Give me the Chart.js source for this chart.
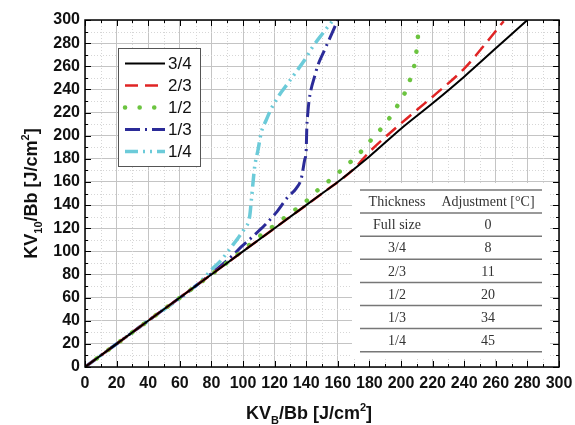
<!DOCTYPE html>
<html>
<head>
<meta charset="UTF-8">
<script src="https://cdn.jsdelivr.net/npm/chart.js"></script>
<style>
  body { margin: 0; background: #fff; }
</style>
</head>
<body>
<canvas id="c" width="575" height="425"></canvas>
<script>
// series: x = KV_B/Bb, y = KV10/Bb
const x34 = [0, 40, 80, 120, 150, 160, 180, 200, 220, 240, 260, 280];
const y34 = [0, 40, 80, 120, 150, 160, 182, 206, 228, 251, 275.5, 300];

const x23 = [0, 40, 80, 120, 150, 170, 180, 200, 220, 240, 255, 265];
const y23 = [0, 40, 80, 120, 150, 171, 186, 210.6, 233.7, 258, 282, 299];

const x12 = [0, 40, 80, 100, 108.4, 115.8, 123, 131, 139, 145, 152.6, 160, 167, 173.7, 180.5, 186.8, 192.6, 198, 202.8, 206, 208.7, 210, 211];
const y12 = [0, 40, 80, 101, 110.7, 118.4, 125.6, 134, 142, 150.2, 158.8, 167.5, 176, 184.7, 195.4, 205, 215, 226.5, 238, 249.6, 262.6, 275.5, 290];

const x13 = [0, 40, 70, 78, 85.3, 92.6, 99, 106.3, 113.7, 121, 128.4, 133.7, 136.9, 139, 140, 140.4, 141, 141.7, 143, 145.3, 147.4, 151.6, 155.8, 160];
const y13 = [0, 40, 70, 78.5, 86.7, 95.4, 104, 113, 122.5, 133.5, 147, 154.5, 163, 179, 187.6, 207.7, 219, 229, 239.5, 251, 261, 274, 287, 300];

const x14 = [0, 40, 70, 75, 80, 86.3, 91.6, 96.8, 101, 104.2, 105.3, 106.3, 107.4, 109.5, 111.6, 114.7, 118, 123, 128.4, 133.7, 139, 144.2, 150.5, 156.5];
const y14 = [0, 40, 70, 76.5, 84, 92.5, 102, 111.3, 120, 130, 144.4, 158.8, 173.2, 187.6, 203, 213.5, 223.7, 235.2, 245.3, 255.3, 265.4, 277, 288.5, 299];

const seriesNames = ['3/4', '2/3', '1/2', '1/3', '1/4'];

// inset table
const tableHead = ['Thickness', 'Adjustment [\u00B0C]'];
const tableThickness = ['Full size', '3/4', '2/3', '1/2', '1/3', '1/4'];
const tableAdjust = ['0', '8', '11', '20', '34', '45'];

const pts = (xs, ys) => xs.map((x, i) => ({ x: x, y: ys[i] }));

const styles = [
  { color: '#000000', dash: [], width: 2 },
  { color: '#e02424', dash: [13, 7], width: 2.5 },
  { color: '#6cc440', dash: [0.1, 14.5], width: 4.5 },
  { color: '#2b2b98', dash: [15, 5, 2, 5], width: 3 },
  { color: '#6ccbd9', dash: [13, 5, 2, 5, 2, 5], width: 3.5 }
];
const allX = [x34, x23, x12, x13, x14];
const allY = [y34, y23, y12, y13, y14];

const datasets = seriesNames.map((name, i) => ({
  label: name,
  data: pts(allX[i], allY[i]),
  borderColor: styles[i].color,
  borderDash: styles[i].dash,
  borderWidth: styles[i].width,
  borderCapStyle: i === 2 ? 'round' : 'butt',
  pointRadius: 0,
  fill: false,
  cubicInterpolationMode: 'monotone'
}));

const sans = '"Liberation Sans", Arial, sans-serif';
const serif = '"Liberation Serif", "Times New Roman", serif';

// minor dotted grid under the data
const minorGrid = {
  id: 'minorGrid',
  beforeDatasetsDraw(chart) {
    const { ctx, chartArea: a, scales: { x, y } } = chart;
    ctx.save();
    ctx.strokeStyle = '#d6d6d6';
    ctx.lineWidth = 1;
    ctx.setLineDash([1, 2]);
    for (let v = 10; v < 300; v += 20) {
      const px = Math.round(x.getPixelForValue(v)) + 0.5;
      ctx.beginPath(); ctx.moveTo(px, a.top); ctx.lineTo(px, a.bottom); ctx.stroke();
      const py = Math.round(y.getPixelForValue(v)) + 0.5;
      ctx.beginPath(); ctx.moveTo(a.left, py); ctx.lineTo(a.right, py); ctx.stroke();
    }
    ctx.restore();
  }
};

// legend box, inset table, frame, inward ticks, axis titles
const overlay = {
  id: 'overlay',
  afterDatasetsDraw(chart) {
    const { ctx, chartArea: a, scales: { x, y } } = chart;
    ctx.save();

    // legend
    const lx = a.left + 33, ly = a.top + 28;
    ctx.fillStyle = '#fff';
    ctx.fillRect(lx, ly, 82, 118);
    ctx.strokeStyle = '#555';
    ctx.lineWidth = 1;
    ctx.setLineDash([]);
    ctx.strokeRect(lx + 0.5, ly + 0.5, 82, 118);
    ctx.font = '17px ' + sans;
    ctx.textBaseline = 'middle';
    ctx.textAlign = 'left';
    chart.data.datasets.forEach((ds, i) => {
      const ry = ly + 15.5 + i * 22;
      ctx.strokeStyle = ds.borderColor;
      ctx.lineWidth = ds.borderWidth;
      ctx.lineCap = ds.borderCapStyle;
      ctx.setLineDash(ds.borderDash);
      ctx.beginPath(); ctx.moveTo(lx + 7, ry); ctx.lineTo(lx + 47, ry); ctx.stroke();
      ctx.fillStyle = '#111';
      ctx.fillText(ds.label, lx + 50, ry + 1);
    });
    ctx.lineCap = 'butt';
    ctx.setLineDash([]);

    // table
    const tl = 360, tr = 542, tt = 190, rh = 23.1;
    ctx.fillStyle = '#fff';
    ctx.fillRect(352, 183, 198, 176);
    ctx.strokeStyle = '#777';
    ctx.lineWidth = 1.5;
    for (let r = 0; r <= tableThickness.length + 1; r++) {
      const py = tt + r * rh;
      ctx.beginPath(); ctx.moveTo(tl, py); ctx.lineTo(tr, py); ctx.stroke();
    }
    ctx.fillStyle = '#333';
    ctx.font = '14px ' + serif;
    ctx.textAlign = 'center';
    ctx.textBaseline = 'middle';
    const c1 = 397, c2 = 488;
    ctx.fillText(tableHead[0], c1, tt + rh / 2 + 1);
    ctx.fillText(tableHead[1], c2, tt + rh / 2 + 1);
    tableThickness.forEach((t, i) => {
      const py = tt + (i + 1.5) * rh + 1;
      ctx.fillText(t, c1, py);
      ctx.fillText(tableAdjust[i], c2, py);
    });

    // frame
    ctx.strokeStyle = '#000';
    ctx.lineWidth = 1.5;
    ctx.strokeRect(a.left, a.top, a.right - a.left, a.bottom - a.top);

    // inward ticks on all sides
    ctx.lineWidth = 1;
    for (let v = 0; v <= 300; v += 10) {
      const len = v % 20 === 0 ? 6 : 3;
      const px = Math.round(x.getPixelForValue(v)) + 0.5;
      ctx.beginPath();
      ctx.moveTo(px, a.bottom); ctx.lineTo(px, a.bottom - len);
      ctx.moveTo(px, a.top); ctx.lineTo(px, a.top + len);
      ctx.stroke();
      const py = Math.round(y.getPixelForValue(v)) + 0.5;
      ctx.beginPath();
      ctx.moveTo(a.left, py); ctx.lineTo(a.left + len, py);
      ctx.moveTo(a.right, py); ctx.lineTo(a.right - len, py);
      ctx.stroke();
    }
    ctx.restore();
  },
  afterDraw(chart) {
    const { ctx, chartArea: a } = chart;
    const big = 'bold 18px ' + sans, small = 'bold 11px ' + sans;
    // parts: [text, font, baseline shift]
    const drawParts = (parts, cx, cy) => {
      let w = 0;
      parts.forEach(p => { ctx.font = p[1]; w += ctx.measureText(p[0]).width; });
      let px = cx - w / 2;
      parts.forEach(p => {
        ctx.font = p[1];
        ctx.fillText(p[0], px, cy + p[2]);
        px += ctx.measureText(p[0]).width;
      });
    };
    ctx.save();
    ctx.fillStyle = '#111';
    ctx.textAlign = 'left';
    ctx.textBaseline = 'alphabetic';
    drawParts([['KV', big, 0], ['B', small, 5], ['/Bb [J/cm', big, 0], ['2', small, -8], [']', big, 0]],
      (a.left + a.right) / 2 - 13, 419);
    ctx.translate(37, (a.top + a.bottom) / 2);
    ctx.rotate(-Math.PI / 2);
    drawParts([['KV', big, 0], ['10', small, 5], ['/Bb [J/cm', big, 0], ['2', small, -8], [']', big, 0]], 0, 0);
    ctx.restore();
  }
};

new Chart(document.getElementById('c'), {
  type: 'line',
  data: { datasets: datasets },
  options: {
    responsive: false,
    devicePixelRatio: 1,
    animation: false,
    layout: { padding: { top: 20, right: 16, left: 0, bottom: 0 } },
    plugins: { legend: { display: false }, tooltip: { enabled: false } },
    scales: {
      x: {
        type: 'linear',
        min: 0, max: 300,
        afterFit: s => { s.height = 58; s.paddingLeft = 0; s.paddingRight = 0; },
        ticks: { stepSize: 20, color: '#111', padding: 7, maxRotation: 0, minRotation: 0, autoSkip: false,
                 font: { family: sans, size: 16, weight: 'bold' } },
        grid: { color: '#c4c4c4', drawTicks: false },
        border: { display: false }
      },
      y: {
        type: 'linear',
        min: 0, max: 300,
        afterFit: s => { s.width = 85; s.paddingTop = 0; s.paddingBottom = 0; },
        ticks: { stepSize: 20, color: '#111', padding: 5, autoSkip: false, font: { family: sans, size: 16, weight: 'bold' } },
        grid: { color: '#c4c4c4', drawTicks: false },
        border: { display: false }
      }
    }
  },
  plugins: [minorGrid, overlay]
});
</script>
</body>
</html>
